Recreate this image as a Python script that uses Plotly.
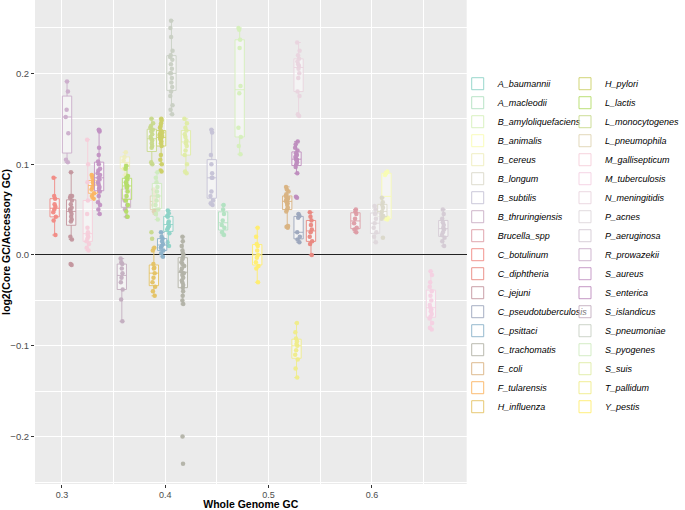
import plotly.graph_objects as go

species = ["A_baumannii", "A_macleodii", "B_amyloliquefaciens", "B_animalis", "B_cereus",
           "B_longum", "B_subtilis", "B_thruringiensis", "Brucella_spp", "C_botulinum",
           "C_diphtheria", "C_jejuni", "C_pseudotuberculosis", "C_psittaci", "C_trachomatis",
           "E_coli", "F_tularensis", "H_influenza", "H_pylori", "L_lactis", "L_monocytogenes",
           "L_pneumophila", "M_gallisepticum", "M_tuberculosis", "N_meningitidis", "P_acnes",
           "P_aeruginosa", "R_prowazekii", "S_aureus", "S_enterica", "S_islandicus",
           "S_pneumoniae", "S_pyogenes", "S_suis", "T_pallidum", "Y_pestis"]

whole_gc = [0.403, 0.456, 0.472, 0.614, 0.361,
            0.610, 0.445, 0.362, 0.584, 0.293,
            0.541, 0.309, 0.529, 0.397, 0.417,
            0.518, 0.330, 0.389, 0.396, 0.363, 0.387,
            0.390, 0.325, 0.657, 0.529, 0.603,
            0.669, 0.305, 0.336, 0.527, 0.358,
            0.406, 0.392, 0.420, 0.527, 0.489]

A_baumannii = [0.01, 0.014, 0.024, 0.028, 0.03, 0.032, 0.035, 0.037, 0.042, 0.043, 0.046, 0.049]
A_macleodii = [0.022, 0.025, 0.03, 0.033, 0.038, 0.045, 0.05, 0.055]
B_amyloliquefaciens = [0.111, 0.12, 0.13, 0.14, 0.178, 0.186, 0.228, 0.237, 0.248, 0.25]
B_animalis = [0.039, 0.04, 0.041, 0.088, 0.09, 0.092]
B_cereus = [0.088, 0.095, 0.1, 0.104, 0.108, 0.113]
B_longum = [0.019, 0.04, 0.043, 0.045, 0.048, 0.052, 0.055, 0.058, 0.063]
B_subtilis = [0.055, 0.057, 0.06, 0.065, 0.07, 0.085, 0.085, 0.09, 0.1, 0.11, 0.135, 0.138]
B_thruringiensis = [0.042, 0.05, 0.055, 0.06, 0.065, 0.07, 0.075, 0.08]
Brucella_spp = [0.025, 0.028, 0.03, 0.035, 0.04, 0.045, 0.048, 0.05]
C_botulinum = [0.022, 0.038, 0.042, 0.047, 0.05, 0.053, 0.056, 0.062, 0.065, 0.085]
C_diphtheria = [0.0, 0.012, 0.015, 0.02, 0.025, 0.028, 0.033, 0.038, 0.042, 0.047]
C_jejuni = [-0.011, -0.01, 0.017, 0.02, 0.037, 0.039, 0.042, 0.045, 0.048, 0.05, 0.052,
            0.056, 0.06, 0.063, 0.065, 0.065, 0.091]
C_pseudotuberculosis = [0.014, 0.017, 0.02, 0.025, 0.041, 0.043, 0.045]
C_psittaci = [-0.002, 0.002, 0.005, 0.008, 0.01, 0.012, 0.015, 0.018, 0.02, 0.025]
C_trachomatis = [0.02, 0.015, 0.01, 0.005, 0.002, 0.0, -0.003, -0.005, -0.008, -0.01, -0.012,
                 -0.015, -0.018, -0.02, -0.022, -0.025, -0.028, -0.03, -0.033, -0.036, -0.04,
                 -0.045, -0.05, -0.054, -0.2, -0.23]
E_coli = [0.03, 0.031, 0.032, 0.048, 0.05, 0.052, 0.055, 0.057, 0.058, 0.06, 0.061, 0.062,
          0.063, 0.065, 0.067, 0.07, 0.072, 0.075]
F_tularensis = [0.062, 0.065, 0.068, 0.072, 0.075, 0.078, 0.08, 0.082, 0.085, 0.088]
H_influenza = [0.008, 0.005, -0.01, -0.014, -0.015, -0.02, -0.025, -0.03, -0.035, -0.04, -0.045]
H_pylori = [0.092, 0.093, 0.1, 0.105, 0.11, 0.12, 0.123, 0.125, 0.127, 0.128, 0.129, 0.13,
            0.131, 0.132, 0.134, 0.135, 0.137, 0.14, 0.142, 0.145, 0.148, 0.15]
L_lactis = [0.042, 0.048, 0.055, 0.06, 0.065, 0.07, 0.074, 0.076, 0.078, 0.08, 0.083, 0.085,
            0.087, 0.095, 0.098]
L_monocytogenes = [0.018, 0.025, 0.1, 0.102, 0.118, 0.12, 0.123, 0.126, 0.128, 0.13, 0.133,
                   0.136, 0.138, 0.14, 0.142, 0.145, 0.15]
L_pneumophila = [0.045, 0.048, 0.05, 0.055, 0.058, 0.06, 0.062, 0.065, 0.068, 0.072]
M_gallisepticum = [0.005, 0.008, 0.012, 0.015, 0.018, 0.02, 0.022, 0.025, 0.03, 0.045, 0.06,
                   0.08, 0.1, 0.127]
M_tuberculosis = [-0.018, -0.022, -0.03, -0.035, -0.04, -0.045, -0.05, -0.055, -0.058, -0.06,
                  -0.062, -0.065, -0.068, -0.07, -0.075, -0.08, -0.082]
N_meningitidis = [0.153, 0.155, 0.175, 0.18, 0.195, 0.2, 0.205, 0.208, 0.21, 0.213, 0.216,
                  0.22, 0.225, 0.234]
P_acnes = [0.014, 0.02, 0.025, 0.03, 0.035, 0.04, 0.045, 0.05, 0.054]
P_aeruginosa = [0.01, 0.015, 0.019, 0.022, 0.025, 0.028, 0.03, 0.033, 0.036, 0.04, 0.045, 0.05]
R_prowazekii = [0.102, 0.105, 0.134, 0.152, 0.16, 0.18, 0.191]
S_aureus = [0.045, 0.05, 0.055, 0.058, 0.065, 0.07, 0.073, 0.075, 0.078, 0.08, 0.083, 0.085,
            0.088, 0.09, 0.093, 0.095, 0.1, 0.103, 0.11, 0.118, 0.136, 0.137, 0.138]
S_enterica = [0.063, 0.064, 0.09, 0.097, 0.1, 0.102, 0.104, 0.105, 0.106, 0.108, 0.11, 0.112,
              0.115, 0.118, 0.122, 0.125]
S_islandicus = [-0.004, -0.008, -0.01, -0.015, -0.02, -0.025, -0.03, -0.038, -0.049, -0.073]
S_pneumoniae = [0.155, 0.16, 0.165, 0.175, 0.18, 0.185, 0.19, 0.195, 0.2, 0.2, 0.205, 0.21,
                0.215, 0.218, 0.22, 0.225, 0.24, 0.25, 0.258]
S_pyogenes = [0.039, 0.045, 0.05, 0.055, 0.06, 0.065, 0.07, 0.075, 0.08, 0.085, 0.091]
S_suis = [0.09, 0.092, 0.1, 0.11, 0.115, 0.12, 0.123, 0.126, 0.13, 0.133, 0.137, 0.14, 0.145, 0.15]
T_pallidum = [-0.075, -0.085, -0.092, -0.095, -0.098, -0.1, -0.105, -0.11, -0.115, -0.125, -0.135]
Y_pestis = [-0.03, -0.015, -0.012, -0.008, -0.003, 0.0, 0.005, 0.01, 0.012, 0.02, 0.03]

ratio_values = [A_baumannii, A_macleodii, B_amyloliquefaciens, B_animalis, B_cereus,
                B_longum, B_subtilis, B_thruringiensis, Brucella_spp, C_botulinum,
                C_diphtheria, C_jejuni, C_pseudotuberculosis, C_psittaci, C_trachomatis,
                E_coli, F_tularensis, H_influenza, H_pylori, L_lactis, L_monocytogenes,
                L_pneumophila, M_gallisepticum, M_tuberculosis, N_meningitidis, P_acnes,
                P_aeruginosa, R_prowazekii, S_aureus, S_enterica, S_islandicus,
                S_pneumoniae, S_pyogenes, S_suis, T_pallidum, Y_pestis]

x_ticks = [0.3, 0.4, 0.5, 0.6]
y_ticks = [-0.2, -0.1, 0.0, 0.1, 0.2]

# colour ramp through the Set3 palette (like colorRampPalette in R)
set3 = ["#8DD3C7", "#FFFFB3", "#BEBADA", "#FB8072", "#80B1D3", "#FDB462",
        "#B3DE69", "#FCCDE5", "#D9D9D9", "#BC80BD", "#CCEBC5", "#FFED6F"]


def hex2rgb(h):
    h = h.lstrip("#")
    return [int(h[i:i + 2], 16) for i in (0, 2, 4)]


def ramp(cols, n):
    rgb = [hex2rgb(c) for c in cols]
    out = []
    for i in range(n):
        t = i * (len(cols) - 1) / (n - 1)
        j = min(int(t), len(cols) - 2)
        f = t - j
        c = [round(rgb[j][k] + (rgb[j + 1][k] - rgb[j][k]) * f) for k in range(3)]
        out.append(c)
    return out


colors = ramp(set3, len(species))
FONT = "Liberation Sans, Arial, sans-serif"

W, H = 685, 510
ML, MB = 35, 26
paper_w = W - ML
panel_w = 433

fig = go.Figure()
half = len(species) // 2
for i, name in enumerate(species):
    r, g, b = colors[i]
    fig.add_trace(go.Box(
        name=name,
        x=[whole_gc[i]] * len(ratio_values[i]),
        y=ratio_values[i],
        width=0.009,
        boxpoints="all",
        jitter=0.35,
        pointpos=0,
        line=dict(color=f"rgba({r},{g},{b},0.9)", width=1),
        fillcolor="rgba(255,255,255,0.45)",
        marker=dict(color=f"rgb({r},{g},{b})", size=4.5, opacity=0.95),
        legend="legend" if i < half else "legend2",
        hoverinfo="y+name",
    ))

legend_common = dict(
    font=dict(family=FONT, size=9, color="black", style="italic"),
    bgcolor="rgba(0,0,0,0)", borderwidth=0, traceorder="normal",
    yanchor="top", xanchor="left", y=0.857, tracegroupgap=0,
)

fig.update_layout(
    width=W, height=H,
    margin=dict(l=ML, r=0, t=0, b=MB),
    paper_bgcolor="white",
    plot_bgcolor="#EBEBEB",
    boxmode="overlay",
    showlegend=True,
    legend=dict(x=(459 - ML) / paper_w, **legend_common),
    legend2=dict(x=(567 - ML) / paper_w, **legend_common),
    xaxis=dict(
        domain=[0, panel_w / paper_w],
        range=[0.274, 0.6916], tickvals=x_ticks, ticktext=[f"{v:.1f}" for v in x_ticks],
        showgrid=True, gridcolor="white", gridwidth=1.1,
        minor=dict(dtick=0.05, tick0=0, showgrid=True, gridcolor="white", gridwidth=0.5),
        ticks="outside", ticklen=2.5, tickcolor="#333333", tickwidth=1,
        tickfont=dict(family=FONT, size=9, color="#4D4D4D"),
        title=dict(text="Whole Genome GC", standoff=7,
                   font=dict(family=FONT, size=10.5, color="black", weight="bold")),
        zeroline=False, showline=False, automargin=False,
    ),
    yaxis=dict(
        range=[-0.2522, 0.2808], tickvals=y_ticks,
        ticktext=[f"{v:.1f}".replace("-", "\u2212") for v in y_ticks],
        showgrid=True, gridcolor="white", gridwidth=1.1,
        minor=dict(dtick=0.05, tick0=0, showgrid=True, gridcolor="white", gridwidth=0.5),
        ticks="outside", ticklen=3, tickcolor="#333333", tickwidth=1,
        tickfont=dict(family=FONT, size=9.5, color="#4D4D4D"),
        title=dict(text="log2(Core GC/Accessory GC)", standoff=4,
                   font=dict(family=FONT, size=10.5, color="black", weight="bold")),
        zeroline=True, zerolinecolor="#222222", zerolinewidth=1.3,
        showline=False, automargin=False,
    ),
)

fig.write_html("out.html", config={"displayModeBar": False},
               post_script="document.body.style.margin='0px';document.body.style.overflow='hidden';")
